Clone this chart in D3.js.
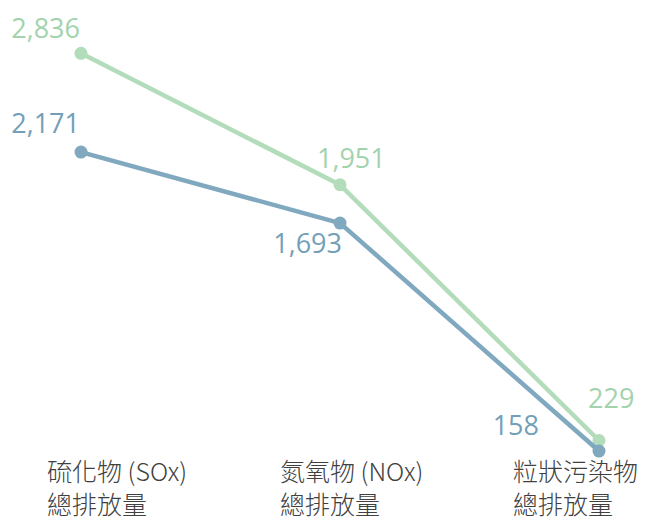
<!DOCTYPE html>
<html>
<head>
<meta charset="utf-8">
<script src="https://cdn.jsdelivr.net/npm/d3@7"></script>
<style>
  body { margin: 0; background: #fff; }
  svg { display: block; }
</style>
</head>
<body>
<svg id="canvas"></svg>
<script>
// Categories (two lines each).
var categories = ['SOx', 'NOx', 'PM'];
var categoryLine1 = ['硫化物 (SOx)', '氮氧物 (NOx)', '粒狀污染物'];
var categoryLine2 = ['總排放量', '總排放量', '總排放量'];

// Series values.
var greenValues = [2836, 1951, 229];
var blueValues = [2171, 1693, 158];

// Label offsets relative to each point (layout only).
var greenLabelOffset = [[-1, -15, 'end'], [-23, -17, 'start'], [-11, -32, 'start']];
var blueLabelOffset = [[-1, -19, 'end'], [2, 30, 'end'], [-60, -16, 'end']];

// Canvas.
var canvasWidth = 646;
var canvasHeight = 522;

var svg = d3.select('#canvas')
            .attr('width', canvasWidth)
            .attr('height', canvasHeight);

// Scales.
var xScale = d3.scalePoint()
               .domain(categories)
               .range([81, 599]);

var yScale = d3.scaleLinear()
               .domain([0, 3000])
               .range([474.5, 29]);

// Category label positions.
var labelScale = d3.scalePoint()
                   .domain(categories)
                   .range([47, 513]);

var drawSeries = function(values, lineColor, textColor, offsets) {
  var line = d3.line()
               .x(function(d, i) { return xScale(categories[i]); })
               .y(function(d) { return yScale(d); });

  svg.append('path')
     .datum(values)
     .attr('d', line)
     .attr('fill', 'none')
     .attr('stroke', lineColor)
     .attr('stroke-width', 4.5)
     .attr('stroke-linejoin', 'round');

  svg.selectAll(null)
     .data(values)
     .enter()
     .append('circle')
     .attr('cx', function(d, i) { return xScale(categories[i]); })
     .attr('cy', function(d) { return yScale(d); })
     .attr('r', 6.5)
     .attr('fill', lineColor);

  svg.selectAll(null)
     .data(values)
     .enter()
     .append('text')
     .attr('x', function(d, i) { return xScale(categories[i]) + offsets[i][0]; })
     .attr('y', function(d) { return yScale(d); })
     .attr('dy', function(d, i) { return offsets[i][1]; })
     .attr('text-anchor', function(d, i) { return offsets[i][2]; })
     .attr('font-family', '"Open Sans", "Noto Sans", sans-serif')
     .attr('font-size', 27)
     .attr('fill', textColor)
     .text(function(d) { return d3.format(',')(d); });
};

// Green first so blue sits on top where they meet.
drawSeries(greenValues, '#b3dcbb', '#a3d3ad', greenLabelOffset);
drawSeries(blueValues, '#80a8bf', '#739fb8', blueLabelOffset);

// Category labels.
var catText = svg.selectAll(null)
                 .data(categories)
                 .enter()
                 .append('text')
                 .attr('font-family', '"Noto Sans CJK TC", "Noto Sans", sans-serif')
                 .attr('font-size', 25)
                 .attr('font-weight', 300)
                 .attr('fill', '#404040');

catText.append('tspan')
       .attr('x', function(d) { return labelScale(d); })
       .attr('y', 481)
       .text(function(d, i) { return categoryLine1[i]; });

catText.append('tspan')
       .attr('x', function(d) { return labelScale(d); })
       .attr('y', 514)
       .text(function(d, i) { return categoryLine2[i]; });
</script>
</body>
</html>
